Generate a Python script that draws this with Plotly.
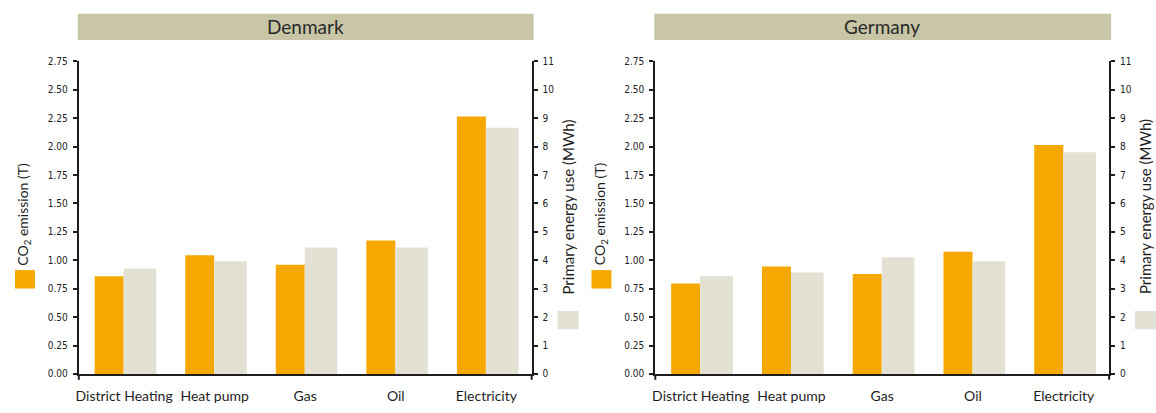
import plotly.graph_objects as go

# ---- data -------------------------------------------------------------
categories = ["District Heating", "Heat pump", "Gas", "Oil", "Electricity"]
countries = ["Denmark", "Germany"]

co2_denmark = [0.86, 1.045, 0.96, 1.175, 2.265]       # CO2 emission (T)
energy_denmark = [3.71, 3.97, 4.45, 4.45, 8.66]       # primary energy use (MWh)
co2_germany = [0.795, 0.945, 0.88, 1.075, 2.015]
energy_germany = [3.45, 3.57, 4.11, 3.97, 7.80]

co2_ticks = [0, 0.25, 0.5, 0.75, 1.0, 1.25, 1.5, 1.75, 2.0, 2.25, 2.5, 2.75]
energy_ticks = [0, 1, 2, 3, 4, 5, 6, 7, 8, 9, 10, 11]

# ---- styling ----------------------------------------------------------
W, H = 1156, 413
ORANGE = "#F5A800"
GREY = "#E3E1D4"
BAND = "#C8C6A7"
INK = "#1e1e1e"
TICK_FONT = dict(family="Liberation Sans Narrow, DejaVu Sans Condensed, Arial Narrow, sans-serif",
                 size=10, color="#222222")
CAT_FONT = dict(family="Lato, Open Sans, sans-serif", size=14, color=INK)


def px_x(v):
    return v / W


def px_y(v):
    return 1 - v / H


# panel geometry in pixels: (left axis x, right axis x)
panels = [(76, 530), (654, 1109)]
y_top, y_bot = 57, 379

fig = go.Figure()

series = [(co2_denmark, energy_denmark), (co2_germany, energy_germany)]
for i, (co2, energy) in enumerate(series):
    xa = "x" if i == 0 else "x2"
    ya_co2 = "y" if i == 0 else "y3"
    ya_en = "y2" if i == 0 else "y4"
    fig.add_trace(go.Bar(x=categories, y=co2, xaxis=xa, yaxis=ya_co2,
                         marker=dict(color=ORANGE, line=dict(width=0)),
                         width=0.32, offset=-0.325, name="CO2 emission (T)",
                         showlegend=False))
    fig.add_trace(go.Bar(x=categories, y=energy, xaxis=xa, yaxis=ya_en,
                         marker=dict(color=GREY, line=dict(width=0)),
                         width=0.36, offset=-0.005, name="Primary energy use (MWh)",
                         showlegend=False))

y_domain = [px_y(y_bot), px_y(y_top)]

xaxis_common = dict(
    type="category", range=[-0.5, 4.5], showline=True, linecolor=INK, linewidth=2,
    ticks="", tickfont=CAT_FONT, showgrid=False, zeroline=False, layer="below traces",
    ticklabelstandoff=8, fixedrange=True,
)
co2_axis = dict(
    range=[0, 2.75], tickvals=co2_ticks, tickformat=".2f", showline=True,
    linecolor=INK, linewidth=2, ticks="outside", ticklen=4, tickwidth=1.5,
    tickcolor=INK, tickfont=TICK_FONT, showgrid=False, zeroline=False,
    domain=y_domain, ticklabelstandoff=3,
)
energy_axis = dict(
    range=[0, 11], tickvals=energy_ticks, showline=True, linecolor=INK,
    linewidth=2, ticks="outside", ticklen=4, tickwidth=1.5, tickcolor=INK,
    tickfont=TICK_FONT, showgrid=False, zeroline=False, side="right",
    ticklabelstandoff=3,
)

fig.update_layout(
    width=W, height=H, autosize=False,
    margin=dict(l=0, r=0, t=0, b=0),
    paper_bgcolor="white", plot_bgcolor="white",
    barmode="overlay", showlegend=False,
    xaxis=dict(domain=[px_x(panels[0][0]), px_x(panels[0][1])], anchor="y", **xaxis_common),
    xaxis2=dict(domain=[px_x(panels[1][0]), px_x(panels[1][1])], anchor="y3", **xaxis_common),
    yaxis=dict(anchor="x", **co2_axis),
    yaxis2=dict(anchor="x", overlaying="y", **energy_axis),
    yaxis3=dict(anchor="x2", **co2_axis),
    yaxis4=dict(anchor="x2", overlaying="y3", **energy_axis),
)

shapes = []
annotations = []
for (xl, xr), country in zip(panels, countries):
    # country heading band
    shapes.append(dict(type="rect", xref="paper", yref="paper",
                       x0=px_x(xl - 1), x1=px_x(xr + 2), y0=px_y(35), y1=px_y(8),
                       fillcolor=BAND, line=dict(width=0), layer="below"))
    annotations.append(dict(text=country, xref="paper", yref="paper",
                            x=px_x((xl + xr) / 2), y=px_y(21.5),
                            showarrow=False, xanchor="center", yanchor="middle",
                            font=dict(family="Lato, Open Sans, sans-serif", size=19, color="#2a2a2a")))
    # axis lines extend a little below the baseline
    for ax_x in (xl, xr):
        shapes.append(dict(type="line", xref="paper", yref="paper",
                           x0=px_x(ax_x), x1=px_x(ax_x), y0=px_y(y_bot), y1=px_y(y_bot + 6),
                           line=dict(color=INK, width=2)))
    # left axis title + swatch
    annotations.append(dict(text="CO<sub>2</sub> emission (T)", xref="paper", yref="paper",
                            x=px_x(xl - 55), y=px_y(214), textangle=-90, showarrow=False,
                            xanchor="center", yanchor="middle",
                            font=dict(family="Lato, Open Sans, sans-serif", size=14, color=INK)))
    shapes.append(dict(type="rect", xref="paper", yref="paper",
                       x0=px_x(xl - 64), x1=px_x(xl - 44), y0=px_y(291), y1=px_y(272),
                       fillcolor=ORANGE, line=dict(width=0)))
    # right axis title + swatch
    annotations.append(dict(text="Primary energy use (MWh)", xref="paper", yref="paper",
                            x=px_x(xr + 36), y=px_y(207), textangle=-90, showarrow=False,
                            xanchor="center", yanchor="middle",
                            font=dict(family="Lato, Open Sans, sans-serif", size=15, color=INK)))
    shapes.append(dict(type="rect", xref="paper", yref="paper",
                       x0=px_x(xr + 26), x1=px_x(xr + 47), y0=px_y(333), y1=px_y(314),
                       fillcolor=GREY, line=dict(width=0)))

fig.update_layout(shapes=shapes, annotations=annotations)

fig.write_html("out.html")
